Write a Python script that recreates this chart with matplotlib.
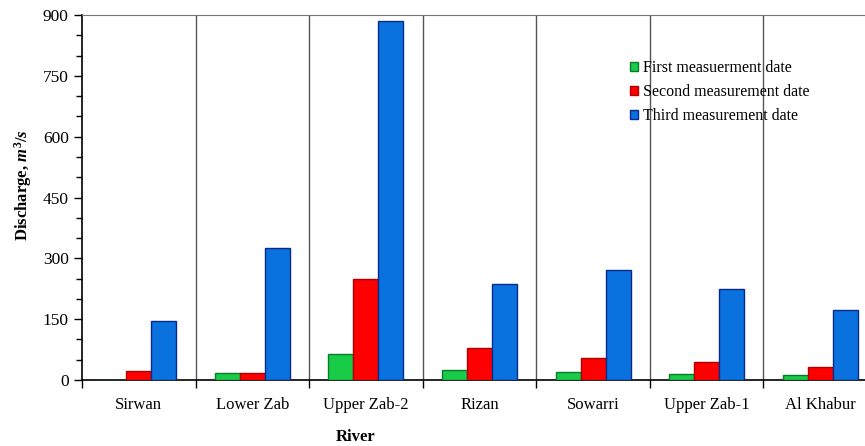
import numpy as np
import matplotlib.pyplot as plt
from matplotlib.ticker import MultipleLocator

plt.rcParams['font.family'] = 'Liberation Serif'
plt.rcParams['mathtext.fontset'] = 'custom'
plt.rcParams['mathtext.rm'] = 'Liberation Serif:bold'
plt.rcParams['mathtext.it'] = 'Liberation Serif:italic:bold'

rivers = ['Sirwan', 'Lower Zab', 'Upper Zab-2', 'Rizan', 'Sowarri', 'Upper Zab-1', 'Al Khabur']
first = [0, 17, 65, 25, 20, 15, 12]
second = [23, 17, 250, 80, 55, 45, 33]
third = [145, 325, 885, 237, 272, 225, 172]

labels = ['First measuerment date', 'Second measurement date', 'Third measurement date']
colors = ['#18cc48', '#ff0000', '#0a72de']
edges = ['#0a7a2a', '#b00000', '#0a2a8a']

fig = plt.figure(figsize=(8.65, 4.46), dpi=100)
ax = fig.add_axes([82 / 865, 66 / 446, 795 / 865, 365 / 446])

x = np.arange(len(rivers))
w = 0.22
for i, vals in enumerate([first, second, third]):
    ax.bar(x + (i - 1) * w, vals, width=w, color=colors[i], edgecolor=edges[i],
           linewidth=1.0, label=labels[i], zorder=3)

# separators between rivers
for b in np.arange(0.5, len(rivers) - 0.5, 1):
    ax.axvline(b, color='#555555', lw=1.0, zorder=1)

ax.set_xlim(-0.5, len(rivers) - 0.5)
ax.set_ylim(0, 900)
ax.yaxis.set_major_locator(MultipleLocator(150))
ax.yaxis.set_minor_locator(MultipleLocator(50))
ax.set_xticks(np.arange(-0.5, len(rivers), 1))
ax.set_xticklabels([])
ax.set_xticks(x, minor=True)
ax.set_xticklabels(rivers, minor=True, fontsize=12)
ax.tick_params(axis='x', which='major', length=6, direction='out', width=1)
ax.tick_params(axis='x', which='minor', length=0, pad=12)
ax.tick_params(axis='y', which='major', length=6, labelsize=12.5, width=1)
ax.tick_params(axis='y', which='minor', length=4, width=1)

ax.spines['right'].set_visible(False)
ax.spines['top'].set_color('#777777')
ax.spines['left'].set_linewidth(1.2)
ax.spines['bottom'].set_linewidth(1.2)

ax.set_ylabel(r'Discharge, $m^3/s$', fontsize=12, fontweight='bold')
ax.yaxis.set_label_coords(-0.061, 0.534)
fig.text(356 / 865, 1 - 437 / 446, 'River', fontsize=12, fontweight='bold',
         ha='center', va='center')

ax.legend(loc='upper left', bbox_to_anchor=(616 / 865, 1 - 46 / 446),
          bbox_transform=fig.transFigure, frameon=False, fontsize=11.5,
          handlelength=0.5, handleheight=0.5, handletextpad=0.3, labelspacing=0.5)

fig.savefig('out.png', dpi=100)
